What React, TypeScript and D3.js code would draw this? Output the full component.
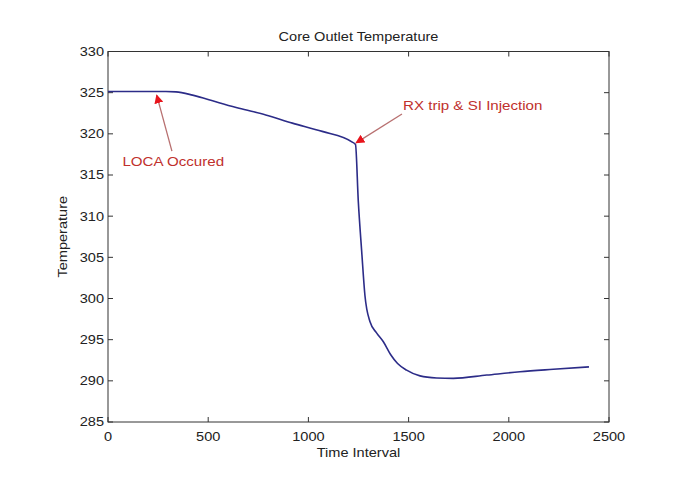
import React from "react";
import * as d3 from "d3";

const timeValues = [0, 150, 289, 339, 422, 538, 654, 787, 920, 1069, 1219, 1235, 1249, 1266, 1282, 1307, 1341, 1374, 1410, 1445, 1490, 1557, 1640, 1723, 1890, 2056, 2222, 2400];
const tempValues = [325.15, 325.15, 325.15, 325.1, 324.7, 323.9, 323.1, 322.3, 321.3, 320.3, 319.0, 318.7, 311.8, 305.7, 300.4, 297.2, 295.8, 294.75, 293.2, 292.1, 291.3, 290.6, 290.35, 290.3, 290.7, 291.1, 291.4, 291.7];
const xTicks = [0, 500, 1000, 1500, 2000, 2500];
const yTicks = [285, 290, 295, 300, 305, 310, 315, 320, 325, 330];
const annotations = [
  { label: "LOCA Occured", tx: 72, tt: 316.1, fromT: 319, fromV: 317.9, toT: 243, toV: 324.7 },
  { label: "RX trip & SI Injection", tx: 1472, tt: 322.9, fromT: 1467, fromV: 322.4, toT: 1238, toV: 318.9 },
];

export default function App() {
  const W = 685, H = 477;
  const x = d3.scaleLinear().domain([0, 2500]).range([108, 609]);
  const y = d3.scaleLinear().domain([285, 330]).range([422, 51.5]);
  const pts = timeValues.map((t, i) => [t, tempValues[i]] as [number, number]);
  const line = d3.line<[number, number]>().x(d => x(d[0])).y(d => y(d[1])).curve(d3.curveMonotoneX);
  const font = "'Liberation Sans', Arial, sans-serif";
  const [x0, x1] = x.range();
  const [y0, y1] = y.range();
  const tl = 5;
  const sx = (cx: number) => `translate(${cx},0) scale(1.12,1) translate(${-cx},0)`;
  return (
    <div style={{ position: "fixed", left: 0, top: 0, width: W, height: H, background: "#fff" }}>
      <svg width={W} height={H} style={{ display: "block" }} fontFamily={font}>
        <rect x={0} y={0} width={W} height={H} fill="#fff" />
        <defs>
          <marker id="ah" viewBox="0 0 10 10" refX="9" refY="5" markerWidth="9" markerHeight="9" orient="auto-start-reverse" markerUnits="userSpaceOnUse">
            <path d="M0,0 L10,5 L0,10 z" fill="#e8141c" />
          </marker>
        </defs>
        <rect x={x0} y={y1} width={x1 - x0} height={y0 - y1} fill="none" stroke="#333" strokeWidth={1} />
        {xTicks.map(t => (
          <g key={"x" + t}>
            <line x1={x(t)} x2={x(t)} y1={y0} y2={y0 - tl} stroke="#333" />
            <line x1={x(t)} x2={x(t)} y1={y1} y2={y1 + tl} stroke="#333" />
            <text x={x(t)} y={y0 + 19} textAnchor="middle" fontSize={13} fill="#222" transform={sx(x(t))}>{t}</text>
          </g>
        ))}
        {yTicks.map(v => (
          <g key={"y" + v}>
            <line x1={x0} x2={x0 + tl} y1={y(v)} y2={y(v)} stroke="#333" />
            <line x1={x1} x2={x1 - tl} y1={y(v)} y2={y(v)} stroke="#333" />
            <text x={x0 - 4} y={y(v) + 4.5} textAnchor="end" fontSize={13} fill="#222" transform={sx(x0 - 4)}>{v}</text>
          </g>
        ))}
        <path d={line(pts) || ""} fill="none" stroke="#2c2c88" strokeWidth={1.6} />
        {annotations.map(a => (
          <g key={a.label}>
            <line x1={x(a.fromT)} y1={y(a.fromV)} x2={x(a.toT)} y2={y(a.toV)} stroke="#b87070" strokeWidth={1.3} markerEnd="url(#ah)" />
            <text x={x(a.tx)} y={y(a.tt)} fontSize={13.5} fill="#c0302c" transform={sx(x(a.tx))}>{a.label}</text>
          </g>
        ))}
        <text x={(x0 + x1) / 2} y={41} textAnchor="middle" fontSize={13} fill="#222" transform={sx((x0 + x1) / 2)}>Core Outlet Temperature</text>
        <text x={(x0 + x1) / 2} y={457} textAnchor="middle" fontSize={13} fill="#222" transform={sx((x0 + x1) / 2)}>Time Interval</text>
        <text transform={`translate(67,${(y0 + y1) / 2}) rotate(-90) scale(1.12,1)`} textAnchor="middle" fontSize={13} fill="#222">Temperature</text>
      </svg>
    </div>
  );
}
